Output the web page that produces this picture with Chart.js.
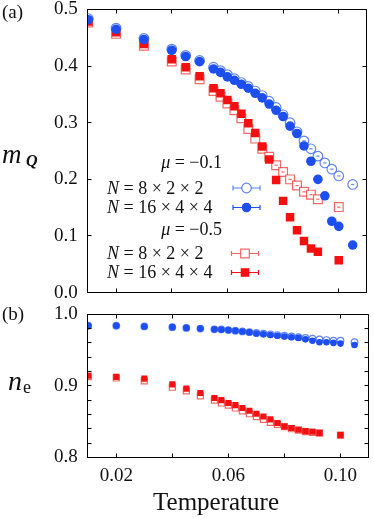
<!DOCTYPE html>
<html>
<head>
<meta charset="utf-8">
<script src="https://cdn.jsdelivr.net/npm/chart.js@4/dist/chart.umd.min.js"></script>
<style>
html,body{margin:0;padding:0;background:#fff;}
#wrap{position:relative;width:374px;height:518px;overflow:hidden;}
#c1{position:absolute;left:0;top:0;}
#c2{position:absolute;left:0;top:300px;}
#err{position:absolute;left:120px;top:20px;font:10px monospace;color:#000;white-space:pre;}
</style>
</head>
<body>
<div id="wrap">
<canvas id="c1" width="374" height="300"></canvas>
<canvas id="c2" width="374" height="218"></canvas>
<div id="err"></div>
</div>
<script>
window.onerror = function(m){ document.getElementById('err').textContent += 'ERR ' + m + '\n'; };
// ---- data ----
const tempBlue = [0.01,0.02,0.03,0.04,0.045,0.05,0.055,0.0575,0.06,0.0625,0.065,0.0675,0.07,0.0725,0.075,0.0775,0.08,0.0825,0.085,0.0875,0.09,0.0925,0.095,0.0975,0.1,0.105];
const tempRed  = [0.01,0.02,0.03,0.04,0.045,0.05,0.055,0.0575,0.06,0.0625,0.065,0.0675,0.07,0.0725,0.075,0.0775,0.08,0.0825,0.085,0.0875,0.09,0.0925,0.1];

// panel (a): m_Q
const mQ_mu01_small = [0.484,0.467,0.449,0.430,0.419,0.410,0.398,0.392,0.385,0.378,0.371,0.364,0.356,0.348,0.338,0.327,0.314,0.300,0.284,0.268,0.254,0.241,0.229,0.218,0.206,0.191];
const mQ_mu01_large = [0.482,0.465,0.447,0.428,0.417,0.408,0.395,0.389,0.381,0.375,0.368,0.361,0.352,0.344,0.333,0.322,0.311,0.294,0.281,0.259,0.232,0.200,0.171,0.126,0.117,0.084];
const mQ_mu05_small = [0.477,0.457,0.436,0.408,0.394,0.377,0.356,0.346,0.334,0.322,0.308,0.289,0.272,0.254,0.240,0.225,0.213,0.200,0.189,0.178,0.173,0.165,0.151];
const mQ_mu05_large = [0.479,0.460,0.439,0.412,0.398,0.382,0.361,0.352,0.340,0.329,0.316,0.299,0.282,0.258,0.235,0.199,0.162,0.133,0.110,0.091,0.078,0.072,0.057];

// panel (b): n_e
const ne_mu01_small = [0.984,0.984,0.983,0.982,0.981,0.980,0.979,0.979,0.978,0.977,0.976,0.975,0.974,0.973,0.972,0.971,0.970,0.969,0.968,0.967,0.966,0.965,0.964,0.963,0.963,0.961];
const ne_mu01_large = [0.984,0.984,0.983,0.982,0.981,0.980,0.979,0.9785,0.978,0.977,0.976,0.975,0.973,0.972,0.971,0.970,0.969,0.968,0.967,0.965,0.963,0.961,0.961,0.960,0.959,0.957];
const ne_mu05_small = [0.913,0.911,0.907,0.898,0.893,0.886,0.880,0.876,0.873,0.869,0.865,0.861,0.857,0.853,0.849,0.846,0.843,0.840,0.838,0.836,0.835,0.834,0.831];
const ne_mu05_large = [0.914,0.9125,0.910,0.902,0.896,0.890,0.883,0.880,0.876,0.873,0.869,0.865,0.861,0.857,0.853,0.848,0.843,0.841,0.8385,0.8366,0.8357,0.834,0.831];

const xTicks = [0.02,0.04,0.06,0.08,0.10];
const yTicksA = [0,0.1,0.2,0.3,0.4,0.5];
const yTicksB = [0.8,0.82,0.84,0.86,0.88,0.9,0.92,0.94,0.96,0.98,1.0];
const legendLabels = ['\u03bc = \u22120.1','N = 8 \u00d7 2 \u00d7 2','N = 16 \u00d7 4 \u00d7 4','\u03bc = \u22120.5','N = 8 \u00d7 2 \u00d7 2','N = 16 \u00d7 4 \u00d7 4'];

// ---- styles ----
const BLUE = '#1d4ff0';
const BLUE_L = 'rgba(40,90,240,0.75)';
const RED = '#f41010';
const RED_L = 'rgba(240,40,40,0.7)';
const FRAME = '#000000';
const SERIF = '"Liberation Serif", "DejaVu Serif", serif';

function pts(xs, ys){ return xs.map((x,i)=>({x:x, y:ys[i]})); }

function ds(xs, ys, filled, color, light, style, r, order){
  return {
    data: pts(xs, ys),
    pointStyle: style,
    pointRadius: r,
    pointBorderWidth: filled ? 0 : 1.2,
    pointBackgroundColor: filled ? color : '#ffffff',
    pointBorderColor: filled ? color : light,
    showLine: false,
    order: order
  };
}

function drawOpenDash(chart){
  const ctx = chart.ctx;
  const cols = {2: BLUE_L, 3: RED_L};
  [2,3].forEach(i=>{
    const meta = chart.getDatasetMeta(i);
    const d = chart.data.datasets[i];
    ctx.save();
    ctx.strokeStyle = cols[i];
    ctx.lineWidth = 1.2;
    meta.data.forEach((p,j)=>{
      if (d.data[j].x < 0.075) return;
      ctx.beginPath();
      ctx.moveTo(p.x-1.6, p.y); ctx.lineTo(p.x+1.6, p.y);
      ctx.stroke();
    });
    ctx.restore();
  });
}

function al(v){ return Math.round(v - 0.5) + 0.5; }

function drawFrame(chart, yTickVals, yLen){
  const ctx = chart.ctx;
  const xs = chart.scales.x, ys = chart.scales.y;
  const L = al(xs.getPixelForValue(xs.min));
  const R = al(xs.getPixelForValue(xs.max));
  const B = al(ys.getPixelForValue(ys.min));
  const T = al(ys.getPixelForValue(ys.max));
  ctx.save();
  ctx.strokeStyle = FRAME;
  ctx.lineWidth = 1;
  ctx.beginPath();
  ctx.moveTo(L, T); ctx.lineTo(R, T); ctx.lineTo(R, B); ctx.lineTo(L, B); ctx.closePath();
  xTicks.forEach(v=>{
    const px = al(xs.getPixelForValue(v));
    ctx.moveTo(px, B); ctx.lineTo(px, B-4);
    ctx.moveTo(px, T); ctx.lineTo(px, T+4);
  });
  yTickVals.forEach(v=>{
    const py = al(ys.getPixelForValue(v));
    ctx.moveTo(L, py); ctx.lineTo(L+yLen, py);
    ctx.moveTo(R, py); ctx.lineTo(R-yLen, py);
  });
  ctx.stroke();
  ctx.restore();
}

function drawMath(ctx, text, left, base, right){
  const sym = text[0], rest = text.slice(1);
  const fi = 'italic 18px ' + SERIF, fr = '18px ' + SERIF;
  ctx.font = fi; const w1 = ctx.measureText(sym).width;
  ctx.font = fr; const w2 = ctx.measureText(rest).width;
  const x = left !== null ? left : right - w1 - w2;
  ctx.textAlign = 'left';
  ctx.font = fi; ctx.fillText(sym, x, base);
  ctx.font = fr; ctx.fillText(rest, x + w1, base);
}

function drawLegend(ctx){
  ctx.save();
  ctx.textBaseline = 'alphabetic';
  const rows = [
    {t:legendLabels[0], y:168, head:true},
    {t:legendLabels[1], y:194, c:BLUE_L, open:true, shape:'circle', my:188},
    {t:legendLabels[2], y:213, c:BLUE, open:false, shape:'circle', my:207.5},
    {t:legendLabels[3], y:235, head:true},
    {t:legendLabels[4], y:259, c:RED_L, open:true, shape:'rect', my:253.5},
    {t:legendLabels[5], y:278, c:RED, open:false, shape:'rect', my:272.5}
  ];
  rows.forEach(r=>{
    ctx.fillStyle = '#111';
    drawMath(ctx, r.t, r.head ? null : 107, r.y, r.head ? 222 : null);
    if (r.head) return;
    const cx = r.shape==='circle' ? 246.5 : 245;
    ctx.strokeStyle = r.c; ctx.lineWidth = 1.2;
    ctx.beginPath();
    ctx.moveTo(cx-13.5, r.my); ctx.lineTo(cx+13.5, r.my);
    ctx.moveTo(cx-13.5, r.my-2.5); ctx.lineTo(cx-13.5, r.my+2.5);
    ctx.moveTo(cx+13.5, r.my-2.5); ctx.lineTo(cx+13.5, r.my+2.5);
    ctx.stroke();
    ctx.beginPath();
    if (r.shape==='circle') ctx.arc(cx, r.my, 4.8, 0, Math.PI*2);
    else ctx.rect(cx-4.3, r.my-4.3, 8.6, 8.6);
    if (r.open){ ctx.fillStyle='#fff'; ctx.fill(); ctx.stroke(); }
    else { ctx.fillStyle=r.c; ctx.fill(); }
  });
  ctx.restore();
}

const decoA = {
  id:'decoA',
  afterDraw(chart){
    const ctx = chart.ctx;
    drawOpenDash(chart);
    drawFrame(chart, yTicksA, 4);
    drawLegend(ctx);
    ctx.save();
    ctx.fillStyle = '#111';
    ctx.textAlign = 'left';
    ctx.textBaseline = 'alphabetic';
    ctx.font = '19px ' + SERIF;
    ctx.fillText('(a)', 2, 18);
    ctx.font = 'italic 27px ' + SERIF;
    ctx.fillText('m', 2, 163);
    ctx.font = 'italic bold 16px ' + SERIF;
    ctx.fillText('Q', 26, 166);
    ctx.restore();
  }
};

const decoB = {
  id:'decoB',
  afterDraw(chart){
    const ctx = chart.ctx;
    drawFrame(chart, yTicksB, 4);
    ctx.save();
    ctx.fillStyle = '#111';
    ctx.textAlign = 'left';
    ctx.textBaseline = 'alphabetic';
    ctx.font = '19px ' + SERIF;
    ctx.fillText('(b)', 2, 20);
    ctx.font = 'italic 28px ' + SERIF;
    ctx.fillText('n', 8, 90);
    ctx.font = '18px ' + SERIF;
    ctx.fillText('e', 23, 93);
    ctx.font = '25px ' + SERIF;
    ctx.textAlign = 'center';
    ctx.fillText('Temperature', 216, 210);
    ctx.restore();
  }
};

function zeroPad(s){ s.paddingTop = 0; s.paddingBottom = 0; s.paddingLeft = 0; s.paddingRight = 0; }

function xScale(showLabels, h){
  return {
    type:'linear', min:0.0098, max:0.110,
    afterBuildTicks: s => { s.ticks = xTicks.map(v=>({value:v})); },
    ticks:{
      display: showLabels, autoSkip:false, maxRotation:0, padding:7,
      font: {family: SERIF, size: 19}, color:'#111',
      callback: (v,i) => (i%2===0 ? v.toFixed(2) : '')
    },
    grid:{display:false, drawTicks:false},
    border:{display:true, color:FRAME, width:1},
    afterFit: s => { s.height = h; zeroPad(s); }
  };
}

function yScale(min, max, vals, labelFn){
  return {
    type:'linear', min:min, max:max,
    afterBuildTicks: s => { s.ticks = vals.map(v=>({value:v})); },
    ticks:{ autoSkip:false, padding:10, font: {family: SERIF, size: 19}, color:'#111', callback: labelFn },
    grid:{display:false, drawTicks:false},
    border:{display:true, color:FRAME, width:1},
    afterFit: s => { s.width = 87.7; zeroPad(s); }
  };
}

function baseOpts(pad){
  return {
    responsive:false, animation:false, devicePixelRatio:1,
    plugins:{legend:{display:false}, tooltip:{enabled:false}},
    layout:{padding:pad}
  };
}

const o1 = baseOpts({top:9.5, right:1.7, left:0, bottom:0});
o1.scales = { x: xScale(false, 5), y: yScale(0, 0.5, yTicksA, v => v.toFixed(1)) };
new Chart(document.getElementById('c1'), {
  type:'scatter',
  data:{ datasets:[
    ds(tempBlue, mQ_mu01_large, true, BLUE, BLUE_L, 'circle', 4.8, 1),
    ds(tempRed, mQ_mu05_large, true, RED, RED_L, 'rect', 6.0, 1),
    ds(tempBlue, mQ_mu01_small, false, BLUE, BLUE_L, 'circle', 4.8, 2),
    ds(tempRed, mQ_mu05_small, false, RED, RED_L, 'rect', 6.2, 2)
  ]},
  options: o1,
  plugins:[decoA]
});

const o2 = baseOpts({top:14.3, right:1.7, left:0, bottom:0});
o2.scales = { x: xScale(true, 60.7), y: yScale(0.8, 1.0, yTicksB, v => (Math.abs(v*10 - Math.round(v*10)) < 1e-6 ? v.toFixed(1) : '')) };
new Chart(document.getElementById('c2'), {
  type:'scatter',
  data:{ datasets:[
    ds(tempBlue, ne_mu01_large, true, BLUE, BLUE_L, 'circle', 3.3, 1),
    ds(tempRed, ne_mu05_large, true, RED, RED_L, 'rect', 4.3, 1),
    ds(tempBlue, ne_mu01_small, false, BLUE, BLUE_L, 'circle', 3.3, 2),
    ds(tempRed, ne_mu05_small, false, RED, RED_L, 'rect', 4.3, 2)
  ]},
  options: o2,
  plugins:[decoB]
});
</script>
</body>
</html>
